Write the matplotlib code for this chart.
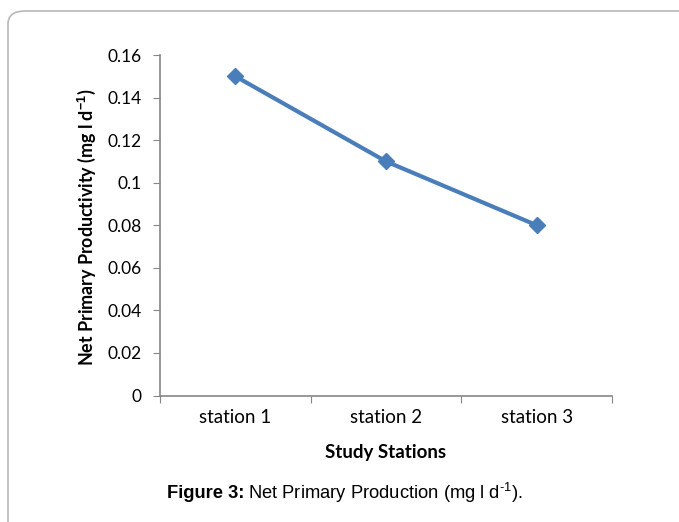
import matplotlib
matplotlib.use("Agg")
import matplotlib.pyplot as plt
from matplotlib.patches import FancyBboxPatch

stations = ["station 1", "station 2", "station 3"]
npp = [0.15, 0.11, 0.08]
yticks = [0, 0.02, 0.04, 0.06, 0.08, 0.1, 0.12, 0.14, 0.16]
ytick_labels = ["0", "0.02", "0.04", "0.06", "0.08", "0.1", "0.12", "0.14", "0.16"]

plt.rcParams["font.family"] = ["Lato", "DejaVu Sans"]
plt.rcParams["mathtext.fontset"] = "custom"
plt.rcParams["mathtext.rm"] = "Liberation Sans"
plt.rcParams["mathtext.bf"] = "Liberation Sans:bold"

W, H = 679, 522
fig = plt.figure(figsize=(W / 100, H / 100), dpi=100)

# rounded frame around the figure (right/bottom edges run off the canvas)
frame = FancyBboxPatch((8 / W, -0.1), 1.2, (H - 11) / H + 0.1,
                       boxstyle="round,pad=0,rounding_size=0.025",
                       transform=fig.transFigure, fill=False,
                       edgecolor="#b8b8b8", linewidth=1.2)
fig.patches.append(frame)

ax = fig.add_axes([160 / W, (H - 395.5) / H, 452 / W, 340.5 / H])
x = range(len(stations))
ax.plot(x, npp, color="#4a7ebb", linewidth=3, marker="D", markersize=8.5)

ax.set_xlim(-0.5, len(stations) - 0.5)
ax.set_ylim(0, 0.16)
ax.set_yticks(yticks)
ax.set_yticklabels(ytick_labels)
ax.set_xticks([i - 0.5 for i in range(len(stations) + 1)])
ax.set_xticklabels([])
ax.set_xticks(list(x), minor=True)
ax.set_xticklabels(stations, minor=True)
ax.tick_params(axis="x", which="minor", length=0, pad=10, labelsize=13.5)
ax.tick_params(axis="x", which="major", length=5, color="#868686")
ax.tick_params(axis="y", length=5, color="#868686", pad=8, labelsize=12.5)

for s in ["top", "right"]:
    ax.spines[s].set_visible(False)
for s in ["left", "bottom"]:
    ax.spines[s].set_color("#868686")
    ax.spines[s].set_linewidth(1.2)

ax.set_xlabel("Study Stations", fontsize=13.5, fontweight="bold")
ax.xaxis.set_label_coords(0.5, -0.142)
ax.set_ylabel(r"Net Primary Productivity (mg l d$^{\mathbf{-1}}$)",
              fontsize=12.9, fontweight="bold")
ax.yaxis.set_label_coords(-0.137, 0.495)

cap_y = 1 - 493 / H
t1 = fig.text(167 / W, cap_y, "Figure 3:", ha="left", va="center",
              fontsize=13.2, fontweight="bold", family="Liberation Sans")
fig.canvas.draw()
bb = t1.get_window_extent()
fig.text(bb.x1 / W + 4 / W, cap_y,
         r"Net Primary Production (mg l d$^{\text{-1}}$).",
         ha="left", va="center", fontsize=13.2, family="Liberation Sans")

fig.savefig("out.png", dpi=100)
